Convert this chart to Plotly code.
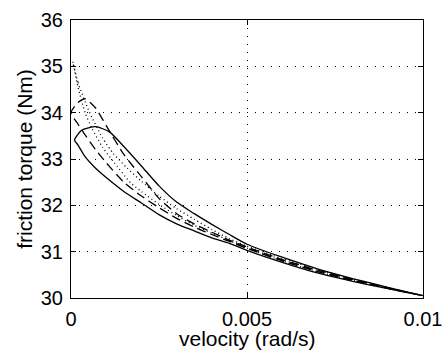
import plotly.graph_objects as go

# Solid loop (upper / lower branch), velocity in rad/s, torque in Nm
solid_upper_v = [0.0001, 0.0003, 0.0007, 0.0011, 0.0015, 0.002, 0.0025, 0.003, 0.0035, 0.004, 0.0045, 0.005, 0.006, 0.007, 0.008, 0.009, 0.01]
solid_upper_t = [33.41, 33.62, 33.70, 33.58, 33.27, 32.85, 32.42, 32.07, 31.82, 31.59, 31.37, 31.16, 30.88, 30.63, 30.42, 30.23, 30.05]
solid_lower_v = [0.0001, 0.0002, 0.0004, 0.0007, 0.001, 0.0015, 0.002, 0.0025, 0.003, 0.0035, 0.004, 0.0045, 0.005, 0.006, 0.007, 0.008, 0.009, 0.01]
solid_lower_t = [33.41, 33.30, 33.05, 32.80, 32.60, 32.30, 32.05, 31.80, 31.60, 31.45, 31.30, 31.18, 31.03, 30.77, 30.54, 30.36, 30.20, 30.05]

# Dashed loop
dash_upper_v = [0.0, 0.0002, 0.0004, 0.0007, 0.001, 0.0015, 0.002, 0.0025, 0.003, 0.0035, 0.004, 0.0045, 0.005, 0.006, 0.007, 0.008, 0.009, 0.01]
dash_upper_t = [34.00, 34.22, 34.30, 34.10, 33.72, 33.10, 32.62, 32.15, 31.82, 31.60, 31.42, 31.25, 31.10, 30.83, 30.60, 30.40, 30.22, 30.05]
dash_lower_v = [0.0, 0.0002, 0.0004, 0.0007, 0.001, 0.0015, 0.002, 0.0025, 0.003, 0.0035, 0.004, 0.0045, 0.005, 0.006, 0.007, 0.008, 0.009, 0.01]
dash_lower_t = [34.00, 33.75, 33.52, 33.20, 32.92, 32.50, 32.20, 31.95, 31.72, 31.53, 31.37, 31.22, 31.07, 30.80, 30.57, 30.38, 30.21, 30.05]

# Dotted loop
dot_upper_v = [0.00005, 0.0002, 0.0005, 0.0009, 0.0012, 0.0016, 0.002, 0.0025, 0.003, 0.0035, 0.004, 0.0045, 0.005, 0.006, 0.007, 0.008, 0.009, 0.01]
dot_upper_t = [35.10, 34.65, 34.05, 33.45, 33.12, 32.80, 32.52, 32.20, 31.93, 31.70, 31.48, 31.28, 31.12, 30.85, 30.62, 30.41, 30.22, 30.05]
dot_lower_v = [0.00005, 0.0002, 0.0004, 0.0006, 0.0009, 0.0012, 0.0017, 0.002, 0.0025, 0.003, 0.0035, 0.004, 0.0045, 0.005, 0.006, 0.007, 0.008, 0.009, 0.01]
dot_lower_t = [35.10, 34.55, 34.00, 33.65, 33.25, 32.95, 32.48, 32.30, 32.02, 31.78, 31.57, 31.40, 31.24, 31.08, 30.80, 30.57, 30.38, 30.21, 30.05]

x_ticks = [0, 0.005, 0.01]
x_tick_labels = ["0", "0.005", "0.01"]
y_ticks = [30, 31, 32, 33, 34, 35, 36]
x_title = "velocity (rad/s)"
y_title = "friction torque (Nm)"

fig = go.Figure()

def loop(uv, ut, lv, lt, dash, width):
    xs = list(uv) + list(reversed(lv))
    ys = list(ut) + list(reversed(lt))
    fig.add_trace(go.Scatter(x=xs, y=ys, mode="lines",
                             line=dict(color="black", width=width, dash=dash, shape="spline", smoothing=0.6),
                             showlegend=False, hoverinfo="skip"))

loop(solid_upper_v, solid_upper_t, solid_lower_v, solid_lower_t, "solid", 1.3)
loop(dash_upper_v, dash_upper_t, dash_lower_v, dash_lower_t, "9px,5px", 1.3)
loop(dot_upper_v, dot_upper_t, dot_lower_v, dot_lower_t, "1px,3px", 1.3)

fam = "Liberation Sans, Arial, Helvetica, sans-serif"
tick_font = dict(family=fam, size=20, color="black")
title_font = dict(family=fam, size=21, color="black")

fig.update_layout(
    width=444, height=353,
    margin=dict(l=71, r=21, t=20, b=55),
    paper_bgcolor="white", plot_bgcolor="white",
    font=tick_font,
    xaxis=dict(range=[0, 0.01], tickvals=x_ticks, ticktext=x_tick_labels, tickfont=tick_font,
               automargin=False,
               showline=True, linecolor="black", linewidth=1, mirror="allticks",
               ticks="inside", ticklen=5, tickcolor="black", ticklabelstandoff=3,
               showgrid=True, gridcolor="black", gridwidth=1, griddash="1px,7px",
               zeroline=False),
    yaxis=dict(range=[30, 36], tickvals=y_ticks, tickfont=tick_font,
               automargin=False,
               showline=True, linecolor="black", linewidth=1, mirror="allticks",
               ticks="inside", ticklen=5, tickcolor="black", ticklabelstandoff=3,
               showgrid=True, gridcolor="black", gridwidth=1, griddash="1px,7px",
               zeroline=False, title=dict(text=y_title, standoff=2, font=title_font)),
    annotations=[dict(text=x_title, xref="paper", yref="paper", x=0.5, y=0,
                      xanchor="center", yanchor="top", yshift=-27,
                      showarrow=False, font=title_font)],
)

fig.write_html("out.html")
